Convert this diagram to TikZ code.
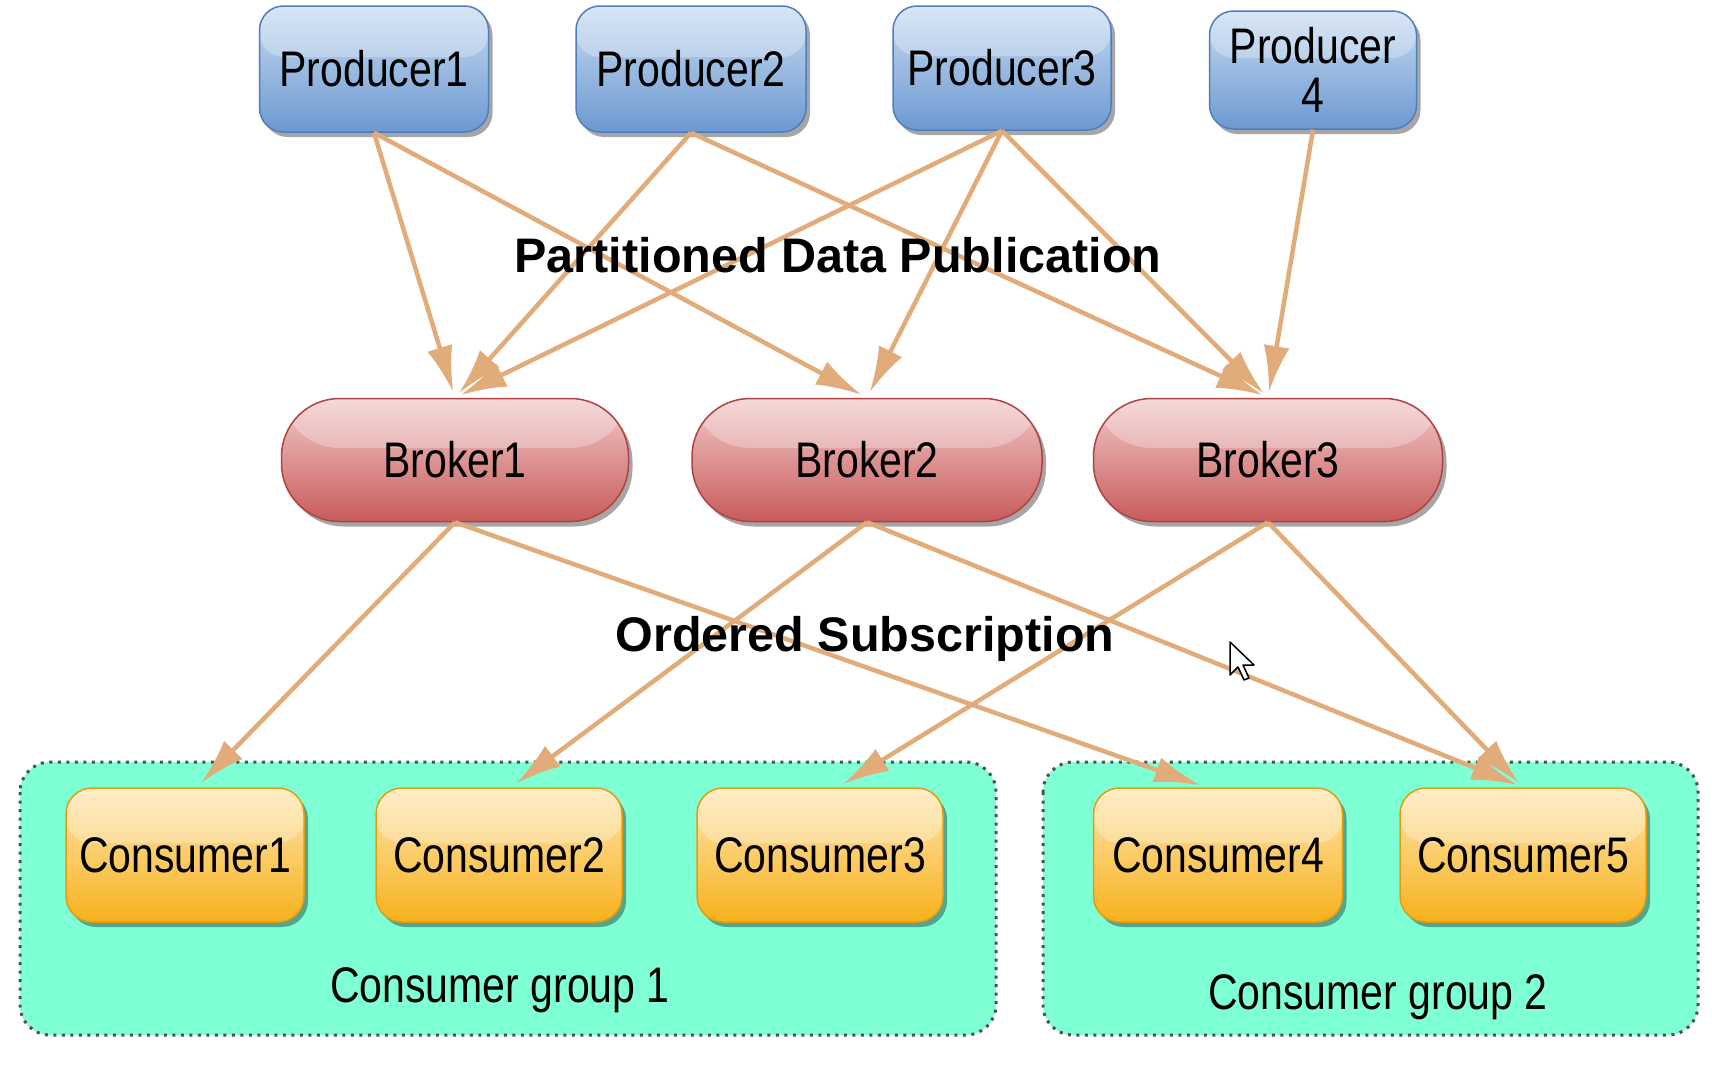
\documentclass[tikz,border=0pt]{standalone}
\usepackage{fontspec}
\setmainfont{Liberation Sans}
\newfontfamily\nodefont[FakeStretch=0.82]{Liberation Sans}
\usetikzlibrary{arrows.meta,shadows}
\definecolor{pTop}{HTML}{C9DCF1}
\definecolor{pBot}{HTML}{6C99D1}
\definecolor{pBor}{HTML}{4E7EBE}
\definecolor{bTop}{HTML}{F2CACA}
\definecolor{bBot}{HTML}{C85B5B}
\definecolor{bBor}{HTML}{B04242}
\definecolor{cTop}{HTML}{FFE7B2}
\definecolor{cBot}{HTML}{F7B11C}
\definecolor{cBor}{HTML}{E39C12}
\definecolor{grpFill}{HTML}{7FFFD4}
\definecolor{grpBor}{HTML}{505050}
\definecolor{arrCol}{RGB}{226,172,122}
\tikzset{
  box/.style={inner sep=0pt, align=center, font=\nodefont\fontsize{50}{49}\selectfont,
    line width=1.5pt, drop shadow={shadow xshift=4pt, shadow yshift=-5pt, opacity=0.35, fill=black},
    path picture={\fill[white, opacity=0.28] (path picture bounding box.north west) rectangle ([yshift=12pt]path picture bounding box.east);}},
  prod/.style={box, draw=pBor, top color=pTop, bottom color=pBot, rounded corners=24pt},
  brok/.style={box, draw=bBor, top color=bTop, bottom color=bBot, rounded corners=58pt},
  cons/.style={box, draw=cBor, top color=cTop, bottom color=cBot, rounded corners=26pt},
  grp/.style={draw=grpBor, fill=grpFill, line width=3pt, dash pattern=on 3pt off 5.5pt, rounded corners=30pt},
  flow/.style={draw=arrCol, line width=4.5pt, -{Latex[length=46pt, width=26pt]}, shorten >=6pt},
  title/.style={font=\bfseries\fontsize{48.5}{50}\selectfont},
  glabel/.style={font=\nodefont\fontsize{50}{50}\selectfont}
}
\begin{document}
\begin{tikzpicture}[x=1pt,y=-1pt]
\fill[white] (0,0) rectangle (1712,1076);
\useasboundingbox (0,0) rectangle (1712,1076);
% groups
\draw[grp] (20,762) rectangle (996,1035);
\draw[grp] (1043,762) rectangle (1698,1035);
\node[glabel] (g1) at (500,990) {Consumer group 1};
\node[glabel] (g2) at (1378,997) {Consumer group 2};
% producers
\node[prod, minimum width=229pt, minimum height=126pt] (p1) at (374,69) {Producer1};
\node[prod, minimum width=230pt, minimum height=126pt] (p2) at (691,69) {Producer2};
\node[prod, minimum width=218pt, minimum height=124pt] (p3) at (1002,68) {Producer3};
\node[prod, minimum width=207pt, minimum height=118pt] (p4) at (1313,70) {Producer\\4};
% brokers
\node[brok, minimum width=347pt, minimum height=123pt] (b1) at (455,460) {Broker1};
\node[brok, minimum width=350pt, minimum height=123pt] (b2) at (867,460) {Broker2};
\node[brok, minimum width=349pt, minimum height=123pt] (b3) at (1268,460) {Broker3};
% consumers
\node[cons, minimum width=238pt, minimum height=134pt] (c1) at (185,855) {Consumer1};
\node[cons, minimum width=246pt, minimum height=134pt] (c2) at (499,855) {Consumer2};
\node[cons, minimum width=246pt, minimum height=134pt] (c3) at (820,855) {Consumer3};
\node[cons, minimum width=249pt, minimum height=134pt] (c4) at (1218,855) {Consumer4};
\node[cons, minimum width=246pt, minimum height=134pt] (c5) at (1523,855) {Consumer5};
% producer -> broker
\draw[flow] (p1.south) -- (b1.north);
\draw[flow] (p1.south) -- (b2.north);
\draw[flow] (p2.south) -- (b1.north);
\draw[flow] (p2.south) -- (b3.north);
\draw[flow] (p3.south) -- (b1.north);
\draw[flow] (p3.south) -- (b2.north);
\draw[flow] (p3.south) -- (b3.north);
\draw[flow] (p4.south) -- (b3.north);
% broker -> consumer
\draw[flow] (b1.south) -- ([xshift=12pt]c1.north);
\draw[flow] (b1.south) -- ([xshift=-12pt]c4.north);
\draw[flow] (b2.south) -- ([xshift=12pt]c2.north);
\draw[flow] (b2.south) -- (c5.north);
\draw[flow] (b3.south) -- ([xshift=18pt]c3.north);
\draw[flow] (b3.south) -- (c5.north);
% titles
\node[title] (t1) at (838,255) {Partitioned Data Publication};
\node[title] (t2) at (865,639) {Ordered Subscription};
% mouse cursor
\draw[fill=white, line width=1.5pt, line join=round]
  (1230,642) -- (1230,675) -- (1238,667) -- (1244,680) -- (1249,678) -- (1243,665) -- (1254,665) -- cycle;
\end{tikzpicture}
\end{document}
